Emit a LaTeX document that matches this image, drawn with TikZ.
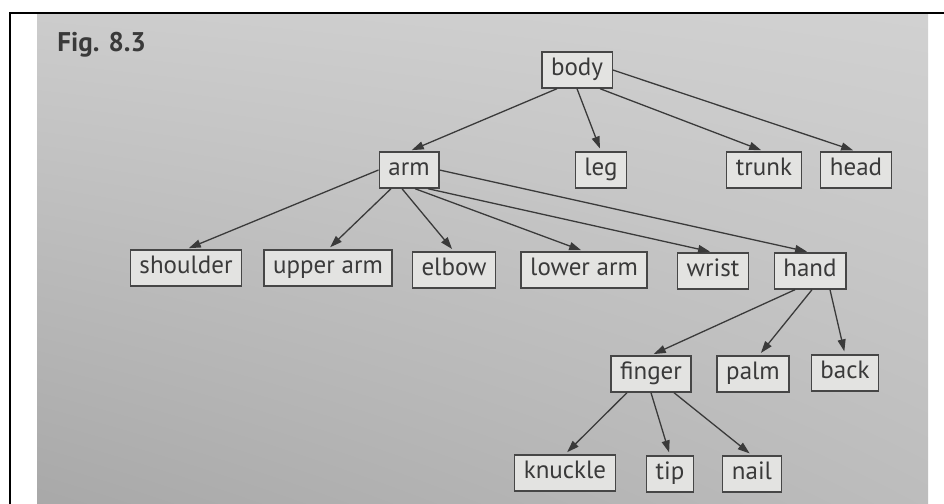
\documentclass[tikz,border=0pt]{standalone}
\usepackage{fontspec}
\setmainfont{PT Sans}
\usetikzlibrary{arrows.meta,shadings}
\usetikzlibrary{calc,positioning}

\definecolor{ink}{HTML}{3A3A3A}
\definecolor{boxline}{HTML}{464646}
\definecolor{boxfill}{HTML}{E3E3E1}

\begin{document}
\begin{tikzpicture}[x=0.5pt, y=-0.5pt,
  part/.style = {draw=boxline, fill=boxfill, line width=0.7pt, text=ink,
    font=\fontsize{12.5}{14}\selectfont, inner xsep=4.6pt, inner ysep=0pt,
    minimum height=18pt, text height=8.6pt, text depth=3pt},
  link/.style = {draw=ink, line width=0.65pt, -{Triangle[length=6pt,width=4pt]}, shorten >=1.5pt}]

\useasboundingbox (0,0) rectangle (944,504);
\fill[white] (0,0) rectangle (944,504);
\shade[upper left=black!20, upper right=black!18, lower left=black!34, lower right=black!26] (37,14) rectangle (928,504);
\draw[black, line width=1pt] (10,504) -- (10,13) -- (944,13);

\node[anchor=base west, inner sep=0, text=ink, font=\fontsize{13.5}{15}\selectfont\bfseries] (fig) at (57,51) {Fig. 8.3};

\node[part](body) at (577,70) {body};

\node[part](arm) at (409,170) {arm};
\node[part](leg) at (601,170) {leg};
\node[part](trunk) at (764,170) {trunk};
\node[part](head) at (856,170) {head};

\node[part](shoulder) at (186,268) {shoulder};
\node[part](upperarm) at (328,268) {upper arm};
\node[part](elbow) at (454,270) {elbow};
\node[part](lowerarm) at (584,270) {lower arm};
\node[part](wrist) at (713,271) {wrist};
\node[part](hand) at (810,271) {hand};

\node[part](finger) at (651,374) {finger};
\node[part](palm) at (753,374) {palm};
\node[part](back) at (845,373) {back};

\node[part](knuckle) at (565,473) {knuckle};
\node[part](tip) at (670,474) {tip};
\node[part](nail) at (752,474) {nail};

\draw [link] ($(body.south)+(-20,0)$) -- (arm.north);
\draw [link] (body.south) -- (leg.north);
\draw [link] ($(body.south)+(23,0)$) -- (trunk.north);
\draw [link] (body.east) -- (head.north);
\draw [link] (arm.west) -- (shoulder.north);
\draw [link] ($(arm.south)+(-18,0)$) -- (upperarm.north);
\draw [link] ($(arm.south)+(-7,0)$) -- (elbow.north);
\draw [link] ($(arm.south)+(6,0)$) -- (lowerarm.north);
\draw [link] ($(arm.south)+(19,0)$) -- (wrist.north);
\draw [link] (arm.east) -- (hand.north);
\draw [link] ($(hand.south)+(-15,0)$) -- (finger.north);
\draw [link] ($(hand.south)+(2,0)$) -- ($(palm.north)+(6,0)$);
\draw [link] ($(hand.south)+(20,0)$) -- (back.north);
\draw [link] ($(finger.south)+(-24,0)$) -- (knuckle.north);
\draw [link] (finger.south) -- (tip.north);
\draw [link] ($(finger.south)+(23,0)$) -- (nail.north);

\end{tikzpicture}
\end{document}
